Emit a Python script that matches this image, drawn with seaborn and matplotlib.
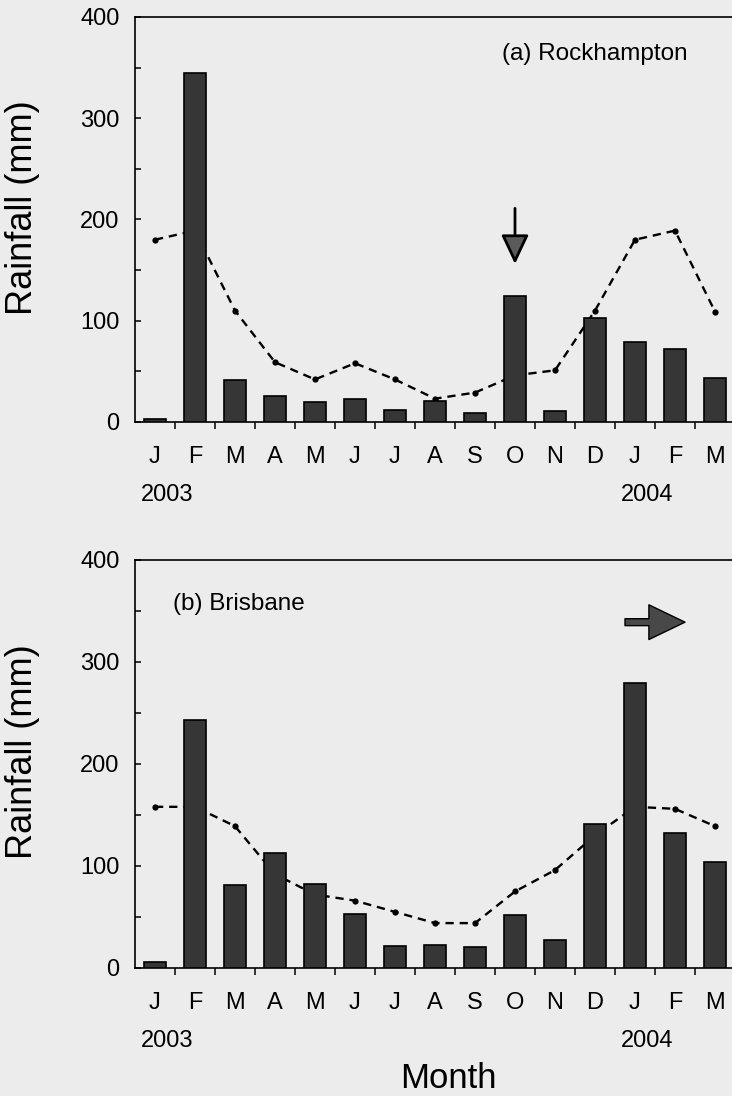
import numpy as np
import pandas as pd
import matplotlib.pyplot as plt
import seaborn as sns

# --- data ---
month_labels = ['J', 'F', 'M', 'A', 'M', 'J', 'J', 'A', 'S', 'O', 'N', 'D', 'J', 'F', 'M']
month_idx = list(range(len(month_labels)))

# (a) Rockhampton: monthly rainfall 2003-2004 and long-term mean
rock_rain = [3, 345, 41, 26, 20, 23, 12, 21, 9, 124, 11, 103, 79, 72, 43]
rock_mean = [180, 189, 110, 59, 42, 58, 42, 23, 29, 46, 51, 110, 180, 189, 109]

# (b) Brisbane
bris_rain = [6, 243, 81, 113, 82, 53, 22, 23, 21, 52, 27, 141, 279, 132, 104]
bris_mean = [158, 158, 139, 92, 72, 66, 55, 44, 44, 75, 96, 130, 158, 156, 139]

year_labels = ['2003', '2004']
panel_titles = ['(a) Rockhampton', '(b) Brisbane']

# arrows (data coords): start -> end
rock_arrow = ((9, 211), (9, 156))
bris_arrow = ((11.75, 339), (13.25, 339))

bg = '#ececec'
bar_col = '#363636'

sns.set_theme(style='ticks')
plt.rcParams['font.family'] = ['Liberation Sans', 'DejaVu Sans']
plt.rcParams.update({
    'axes.linewidth': 1.2,
    'axes.edgecolor': 'black',
    'text.color': 'black',
    'axes.labelcolor': 'black',
    'xtick.color': 'black',
    'ytick.color': 'black',
})

fig = plt.figure(figsize=(7.32, 10.96), dpi=100, facecolor=bg)
ax1 = fig.add_axes([0.1844, 0.6150, 0.8197, 0.3695])
ax2 = fig.add_axes([0.1844, 0.1168, 0.8197, 0.3723])


def draw_panel(ax, rain, mean):
    ax.set_facecolor(bg)
    sns.barplot(x=month_idx, y=rain, color=bar_col, saturation=1,
                edgecolor='black', linewidth=1.2, width=0.55, ax=ax)
    # bars sit in front of the dashed long-term mean
    for p in ax.patches:
        p.set_zorder(3)
    sns.lineplot(x=month_idx, y=mean, color='black', lw=1.7,
                 linestyle=(0, (3.5, 2.5)), marker='o', markersize=4.5,
                 markeredgewidth=0, zorder=2, ax=ax)
    ax.set_xlim(-0.5, 14.5)
    ax.set_ylim(0, 400)
    ax.set_xticks(month_idx)
    ax.set_xticklabels(month_labels, fontsize=17)
    ax.set_xticks(np.arange(0.5, 14, 1), minor=True)
    ax.set_yticks([0, 100, 200, 300, 400])
    ax.set_yticklabels(['0', '100', '200', '300', '400'], fontsize=17)
    ax.set_yticks(np.arange(50, 400, 100), minor=True)
    ax.tick_params(axis='x', which='major', length=0, pad=17)
    ax.tick_params(axis='x', which='minor', direction='out', length=5, width=1.1)
    ax.tick_params(axis='y', which='both', direction='in', length=4, width=1.1, pad=11)
    ax.spines['right'].set_visible(False)
    ax.set_ylabel('Rainfall (mm)', fontsize=26, va='center')
    ax.yaxis.set_label_coords(-0.187, 0.53)
    ax.set_xlabel('')
    ax.text(0.054, -0.18, year_labels[0], transform=ax.transAxes,
            ha='center', va='center', fontsize=17)
    ax.text(0.853, -0.18, year_labels[1], transform=ax.transAxes,
            ha='center', va='center', fontsize=17)


draw_panel(ax1, rock_rain, rock_mean)
draw_panel(ax2, bris_rain, bris_mean)

ax1.text(0.612, 0.908, panel_titles[0], transform=ax1.transAxes,
         ha='left', va='center', fontsize=17.5)
ax2.text(0.063, 0.892, panel_titles[1], transform=ax2.transAxes,
         ha='left', va='center', fontsize=17.5)

# down arrow over October (Rockhampton)
ax1.annotate('', xy=rock_arrow[1], xytext=rock_arrow[0],
             arrowprops=dict(arrowstyle='-|>,head_length=1.8,head_width=0.85',
                             mutation_scale=10, fc='#5a5a5a', ec='black', lw=2.0,
                             shrinkA=0, shrinkB=0), zorder=5)
# right arrow (Brisbane)
ax2.annotate('', xy=bris_arrow[1], xytext=bris_arrow[0],
             arrowprops=dict(arrowstyle='simple,head_length=2.6,head_width=2.5,tail_width=0.5',
                             mutation_scale=10, fc='#484848', ec='black', lw=1.0,
                             shrinkA=0, shrinkB=0), zorder=5)

ax2.set_xlabel('Month', fontsize=25, va='center')
ax2.xaxis.set_label_coords(0.522, -0.27)

fig.savefig('out.png', dpi=100, facecolor=bg)
